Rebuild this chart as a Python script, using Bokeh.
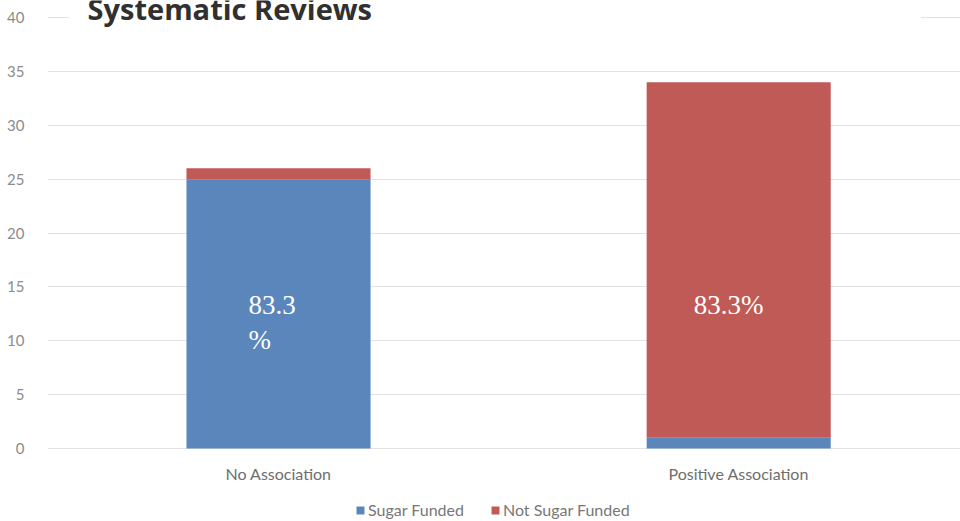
from bokeh.plotting import figure
from bokeh.models import (Range1d, Legend, LegendItem, BoxAnnotation, Label,
                          FixedTicker, ColumnDataSource)
from bokeh.core.properties import value
from bokeh.embed import file_html
from bokeh.resources import INLINE

# Data: number of systematic reviews by conclusion and funding source
categories = ["No Association", "Positive Association"]
sugar_funded = [25, 1]
not_sugar_funded = [1, 33]
pct_labels = ["83.3\n%", "83.3%"]
y_ticks = [0, 5, 10, 15, 20, 25, 30, 35, 40]
series_names = ["Sugar Funded", "Not Sugar Funded"]

BLUE = "#5B86BC"
RED = "#C05A57"

# The plotting frame fills the canvas; the value axis spans 0..40 over 431 px,
# leaving room above for the title and below for category names and legend.
W, H = 960, 521
LEFT = 47
TOP_PAD, BOTTOM_PAD = 17, 73
px_per_unit = (H - TOP_PAD - BOTTOM_PAD) / 40.0
y_lo = -BOTTOM_PAD / px_per_unit
y_hi = 40 + TOP_PAD / px_per_unit

x_pos = [i + 0.5 for i in range(len(categories))]
source = ColumnDataSource(dict(x=x_pos, sugar=sugar_funded, not_sugar=not_sugar_funded))

p = figure(width=W, height=H, output_backend="svg", toolbar_location=None,
           x_range=Range1d(-0.002, 1.982), y_range=Range1d(y_lo, y_hi),
           min_border_left=LEFT, min_border_right=0, min_border_top=0,
           min_border_bottom=0, outline_line_color=None,
           background_fill_color="white", border_fill_color="white")

renderers = p.vbar_stack(["sugar", "not_sugar"], x="x", width=0.4,
                         color=[BLUE, RED], line_color=None, source=source)

# Value axis
p.yaxis.ticker = FixedTicker(ticks=y_ticks)
p.yaxis.axis_line_color = None
p.yaxis.major_tick_line_color = None
p.yaxis.minor_tick_line_color = None
p.yaxis.major_label_text_color = "#8c8c8c"
p.yaxis.major_label_text_font = "Lato"
p.yaxis.major_label_text_font_size = "15px"
p.yaxis.major_label_standoff = 17
p.xaxis.visible = False

p.xgrid.grid_line_color = None
p.ygrid.ticker = FixedTicker(ticks=y_ticks)
p.ygrid.grid_line_color = "#e2e2e2"
p.ygrid.grid_line_width = 1

# Category names under the bars
cat_src = ColumnDataSource(dict(x=x_pos, y=[-2.3] * len(categories), t=categories))
p.text(x="x", y="y", text="t", source=cat_src, text_align="center",
       text_baseline="middle", text_color="#6e6e6e",
       text_font=value("Lato"), text_font_size="16px")

# Percentage labels inside the bars
label_y = [11.7, 13.35]
label_dx = [-30, -45]
label_src = ColumnDataSource(dict(x=x_pos, y=label_y, t=pct_labels, dx=label_dx))
p.text(x="x", y="y", text="t", source=label_src,
       x_offset="dx", text_align="left", text_baseline="middle",
       text_color="white", text_font=value("Liberation Serif"),
       text_font_size="27px", text_line_height=1.15)

# Title sits on a white band over the top gridline
p.add_layout(BoxAnnotation(left=0.044, right=1.896, bottom=39.8, top=40.2,
                           fill_color="white", fill_alpha=1.0, line_color=None))
p.add_layout(Label(x=0.085, y=40.88, text="Systematic Reviews",
                   text_font="Open Sans", text_font_style="bold",
                   text_font_size="29px", text_color="#303030",
                   text_baseline="middle", text_align="left"))

legend = Legend(items=[LegendItem(label=n, renderers=[r])
                       for n, r in zip(series_names, renderers)],
                orientation="horizontal", location=(308, 2),
                border_line_color=None, background_fill_alpha=0,
                label_text_color="#777777", label_text_font="Lato",
                label_text_font_size="16px", glyph_width=10, glyph_height=10,
                label_height=16, label_standoff=3, spacing=26, padding=0, margin=0)
p.add_layout(legend)

open("out.html", "w").write(file_html(p, INLINE))
